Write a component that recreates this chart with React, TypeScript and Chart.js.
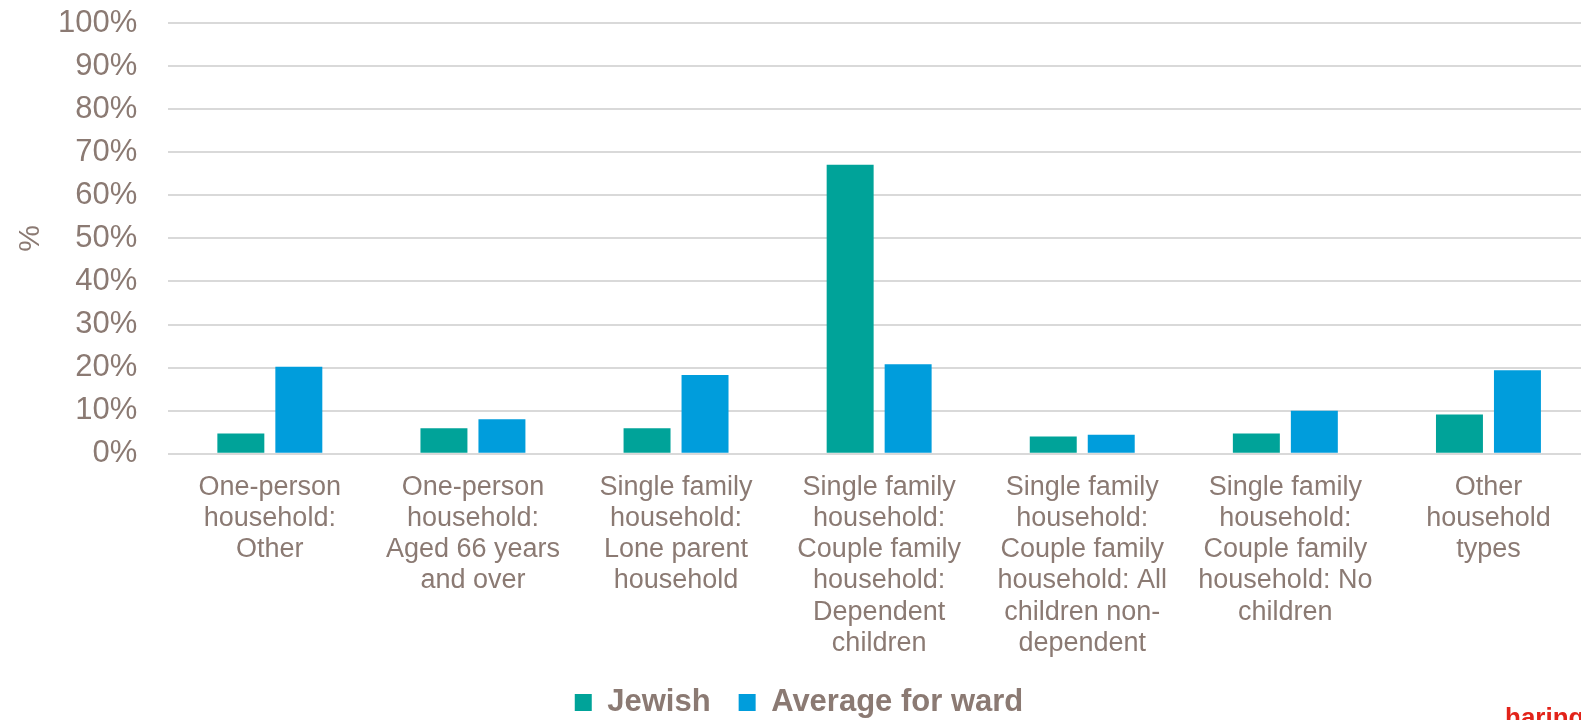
import React, { useEffect, useRef } from "react";
import { Chart, registerables } from "chart.js";

Chart.register(...registerables);

const categories: string[][] = [
  ["One-person", "household:", "Other"],
  ["One-person", "household:", "Aged 66 years", "and over"],
  ["Single family", "household:", "Lone parent", "household"],
  ["Single family", "household:", "Couple family", "household:", "Dependent", "children"],
  ["Single family", "household:", "Couple family", "household: All", "children non-", "dependent"],
  ["Single family", "household:", "Couple family", "household: No", "children"],
  ["Other", "household", "types"],
];

const seriesNames = ["Jewish", "Average for ward"];
const jewishValues = [4.7, 5.9, 5.9, 67.1, 4.0, 4.7, 9.1];
const wardAverageValues = [20.2, 8.0, 18.3, 20.8, 4.4, 10.0, 19.4];

const GREEN = "#00a399";
const BLUE = "#009ddc";
const TEXT = "#8b7a73";
const FONT = "'Liberation Sans', Arial, sans-serif";

export default function App() {
  const ref = useRef<HTMLCanvasElement>(null);

  useEffect(() => {
    if (!ref.current) return;
    const chart = new Chart(ref.current, {
      type: "bar",
      data: {
        labels: categories,
        datasets: [
          {
            label: seriesNames[0],
            data: jewishValues,
            backgroundColor: GREEN,
            categoryPercentage: 0.571,
            barPercentage: 0.81,
          },
          {
            label: seriesNames[1],
            data: wardAverageValues,
            backgroundColor: BLUE,
            categoryPercentage: 0.571,
            barPercentage: 0.81,
          },
        ],
      },
      options: {
        responsive: false,
        animation: false,
        layout: { padding: { left: 8, right: 24, top: 0, bottom: 0 } },
        plugins: {
          tooltip: { enabled: false },
          legend: {
            position: "bottom",
            labels: {
              boxWidth: 17,
              boxHeight: 17,
              padding: 28,
              color: TEXT,
              font: { family: FONT, size: 31, weight: "bold" },
            },
          },
        },
        scales: {
          x: {
            grid: { display: false, tickLength: 18 },
            border: { display: false },
            ticks: {
              color: TEXT,
              font: { family: FONT, size: 27, lineHeight: 1.156 },
              padding: 0,
              maxRotation: 0,
              autoSkip: false,
            },
          },
          y: {
            min: 0,
            max: 100,
            grid: { color: "#d9d9d9", lineWidth: 2, drawTicks: false },
            border: { display: false },
            afterFit: (scale: any) => {
              scale.paddingTop = 23;
            },
            ticks: {
              stepSize: 10,
              color: TEXT,
              font: { family: FONT, size: 31 },
              padding: 31,
              callback: (v: any) => v + "%",
            },
            title: {
              display: true,
              text: "%",
              color: TEXT,
              font: { family: FONT, size: 30 },
              padding: { top: 5, bottom: -22 },
            },
          },
        },
      },
    });
    return () => chart.destroy();
  }, []);

  return (
    <div
      style={{
        position: "fixed",
        left: 0,
        top: 0,
        width: 1581,
        height: 720,
        overflow: "hidden",
        background: "#ffffff",
      }}
    >
      <canvas ref={ref} width={1614} height={728} style={{ display: "block" }} />
      <div
        style={{
          position: "absolute",
          left: 1505,
          top: 704,
          color: "#e2231a",
          fontFamily: FONT,
          fontWeight: "bold",
          fontSize: 26,
          lineHeight: "26px",
          whiteSpace: "nowrap",
        }}
      >
        haringey
      </div>
    </div>
  );
}
